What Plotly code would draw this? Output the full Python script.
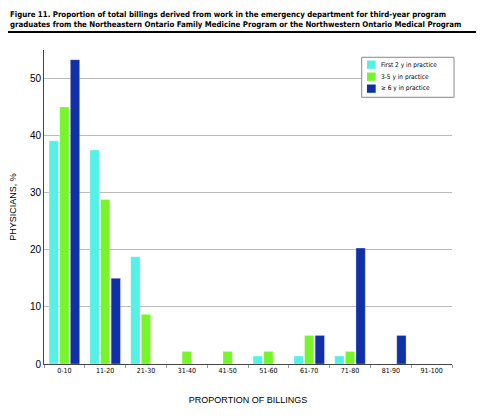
import plotly.graph_objects as go

categories = ["0-10", "11-20", "21-30", "31-40", "41-50", "51-60", "61-70", "71-80", "81-90", "91-100"]
first_2y = [39.1, 37.5, 18.8, 0, 0, 1.4, 1.4, 1.4, 0, 0]
y3_5 = [45.0, 28.8, 8.7, 2.2, 2.2, 2.2, 5.0, 2.2, 0, 0]
y6_plus = [53.3, 15.0, 0, 0, 0, 0, 5.0, 20.3, 5.0, 0]
series_names = ["First 2 y in practice", "3-5 y in practice", "\u2265 6 y in practice"]
colors = ["#55F0E6", "#78F52A", "#1030A8"]

fig = go.Figure()
for name, vals, c in zip(series_names, [first_2y, y3_5, y6_plus], colors):
    fig.add_trace(go.Bar(x=categories, y=vals, name=name, showlegend=False,
                         marker=dict(color=c, line=dict(color="rgba(255,255,255,0.6)", width=0.5))))

font_main = "DejaVu Sans Condensed, Arial"

# manual compact legend (paper coordinates)
leg_x0, leg_x1, leg_y0, leg_y1 = 0.7787, 1.005, 0.8494, 0.9768
sq_x0, sq_x1, sq_h = 0.7917, 0.813, 0.0255
row_y = [0.9538, 0.9156, 0.8774]
shapes = [dict(type="rect", xref="paper", yref="paper", x0=leg_x0, x1=leg_x1, y0=leg_y0, y1=leg_y1,
               line=dict(color="#888888", width=1), fillcolor="white", layer="above")]
annotations = []
for name, c, yc in zip(series_names, colors, row_y):
    shapes.append(dict(type="rect", xref="paper", yref="paper", x0=sq_x0, x1=sq_x1,
                       y0=yc - sq_h / 2 - 0.001, y1=yc + sq_h / 2, fillcolor=c, line=dict(width=0), layer="above"))
    annotations.append(dict(xref="paper", yref="paper", x=0.8218, y=yc, xanchor="left", yanchor="middle",
                            showarrow=False, text=name, font=dict(size=6.5, family=font_main, color="black")))

annotations.append(dict(xref="paper", yref="paper", x=-0.088, y=1.134, xanchor="left", yanchor="top",
                        align="left", showarrow=False,
                        text="<b>Figure 11. Proportion of total billings derived from work in the emergency department for third-year program<br>graduates from the Northeastern Ontario Family Medicine Program or the Northwestern Ontario Medical Program</b>",
                        font=dict(size=7.8, family=font_main)))
shapes.append(dict(type="line", xref="paper", yref="paper", x0=-0.09, x1=1.1, y0=1.057, y1=1.057,
                   line=dict(color="black", width=2)))

fig.update_layout(
    width=484, height=417,
    margin=dict(l=36, r=40, t=42, b=61),
    paper_bgcolor="white", plot_bgcolor="white",
    barmode="group", bargap=0.22, bargroupgap=0.12,
    font=dict(family="Liberation Sans, Arial", color="black"),
    showlegend=False,
    xaxis=dict(showline=True, linecolor="#444444", linewidth=1, automargin=False,
               ticks="outside", tickson="boundaries", ticklen=3, tickcolor="#999999",
               tickfont=dict(size=7, family=font_main),
               title=dict(text="PROPORTION OF BILLINGS", font=dict(size=9), standoff=22)),
    yaxis=dict(range=[0, 55], dtick=10, showline=True, linecolor="#444444", linewidth=1,
               showgrid=True, gridcolor="#BBBBBB", gridwidth=1, zeroline=False, automargin=False,
               tickfont=dict(size=10), ticks="",
               title=dict(text="PHYSICIANS, %", font=dict(size=9), standoff=12)),
    annotations=annotations,
    shapes=shapes,
)
fig.write_html("out.html")
